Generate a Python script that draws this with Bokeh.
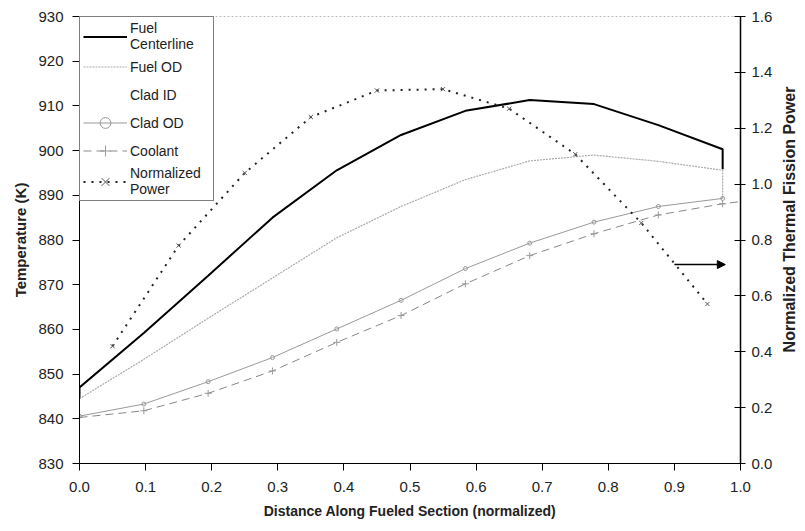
import math
from bokeh.plotting import figure
from bokeh.models import (Range1d, LinearAxis, FixedTicker, Legend, LegendItem,
                          Arrow, NormalHead, NumeralTickFormatter)
from bokeh.embed import file_html
from bokeh.resources import INLINE

# ---------------- data ----------------
x_nodes = [0.0, 0.0973, 0.1946, 0.2919, 0.3892, 0.4865, 0.5838, 0.6811, 0.7784, 0.8757, 0.973]

centerline_x = [0.0] + x_nodes + [0.973]
centerline_t = [844.5, 847.0, 859.2, 872.0, 885.0, 895.6, 903.5, 908.9, 911.3, 910.4, 905.7, 900.3, 895.8]

fuel_od_x = x_nodes + [0.973]
fuel_od_t = [844.5, 853.3, 862.5, 871.5, 880.5, 887.5, 893.5, 897.7, 899.0, 897.6, 895.6, 889.3]

clad_od_x = x_nodes
clad_od_t = [840.6, 843.3, 848.3, 853.7, 860.1, 866.5, 873.6, 879.3, 884.0, 887.5, 889.3]

coolant_x = x_nodes + [1.0]
coolant_t = [840.3, 841.8, 845.7, 850.7, 857.1, 863.1, 870.2, 876.5, 881.4, 885.6, 888.1, 888.6]

power_x = [0.05, 0.15, 0.25, 0.35, 0.45, 0.55, 0.65, 0.75, 0.85, 0.95]
power_v = [0.42, 0.78, 1.04, 1.24, 1.335, 1.34, 1.27, 1.107, 0.861, 0.571]

x_ticks = [0.0, 0.1, 0.2, 0.3, 0.4, 0.5, 0.6, 0.7, 0.8, 0.9, 1.0]
t_ticks = [830, 840, 850, 860, 870, 880, 890, 900, 910, 920, 930]
p_ticks = [0.0, 0.2, 0.4, 0.6, 0.8, 1.0, 1.2, 1.4, 1.6]

arrow_x = [0.90, 0.977]
arrow_power = 0.712

FONT = "Liberation Sans"
FRAME_W, FRAME_H = 661, 447

p = figure(frame_width=FRAME_W, frame_height=FRAME_H,
           x_range=Range1d(0, 1), y_range=Range1d(830, 930),
           output_backend="svg", toolbar_location=None,
           min_border_left=79, min_border_right=62, min_border_top=16, min_border_bottom=60)
p.extra_y_ranges = {"power": Range1d(0, 1.6)}

p.xgrid.grid_line_color = None
p.ygrid.grid_line_color = None
p.outline_line_color = "#bbbbbb"
p.outline_line_dash = "2 2"
p.background_fill_color = "white"
p.border_fill_color = "white"

def style_axis(ax, ticks):
    ax.ticker = FixedTicker(ticks=ticks)
    ax.axis_line_color = "black"
    ax.major_tick_line_color = "black"
    ax.minor_tick_line_color = None
    ax.major_label_text_font = FONT
    ax.major_label_text_font_size = "15px"
    ax.major_label_text_color = "#222222"
    ax.axis_label_text_font = FONT
    ax.axis_label_text_font_size = "14px"
    ax.axis_label_text_font_style = "bold"
    ax.axis_label_text_color = "#222222"

xa = p.xaxis[0]
style_axis(xa, x_ticks)
xa.axis_label = "Distance Along Fueled Section (normalized)"
xa.formatter = NumeralTickFormatter(format="0.0")
xa.major_tick_in = 0
xa.major_tick_out = 7
xa.major_label_standoff = 11
xa.axis_label_standoff = 8

ya = p.yaxis[0]
style_axis(ya, t_ticks)
ya.axis_label = "Temperature (K)"
ya.axis_label_text_font_size = "15px"
ya.major_tick_in = 0
ya.major_tick_out = 7
ya.major_label_standoff = 9
ya.axis_label_standoff = 6

# right axis: label reads bottom-to-top (as in the reference); it is anchored at the
# bottom of the axis and lifted towards the middle by non-breaking spaces
ra = LinearAxis(y_range_name="power",
                axis_label="\u00a0" * 25 + "Normalized Thermal Fission Power")
style_axis(ra, p_ticks)
ra.formatter = NumeralTickFormatter(format="0.0")
ra.axis_label_text_font_size = "16px"
ra.axis_label_orientation = math.pi / 2
ra.axis_label_align = "start"
ra.axis_label_standoff = 14
ra.axis_line_width = 1.5
ra.major_tick_in = 6
ra.major_tick_out = 5
ra.major_label_standoff = 6
p.add_layout(ra, "right")

# ---------------- glyphs ----------------
r_cl = p.line(centerline_x, centerline_t, line_color="black", line_width=2)
r_fod = p.line(fuel_od_x, fuel_od_t, line_color="#aaaaaa", line_width=1.2, line_dash="2 1")
r_cid = p.line([], [], line_color="white", line_width=1)
r_cod = p.line(clad_od_x, clad_od_t, line_color="#999999", line_width=1)
r_cod_m = p.scatter(clad_od_x, clad_od_t, marker="circle", size=4, line_color="#999999",
                    fill_color=None, line_width=1)
r_cool = p.line(coolant_x, coolant_t, line_color="#888888", line_width=1, line_dash="8 5")
r_cool_m = p.scatter(coolant_x[:-1], coolant_t[:-1], marker="cross", size=7, line_color="#999999",
                     line_width=1)
r_pw = p.line(power_x, power_v, y_range_name="power", line_color="#222222", line_width=2,
              line_dash="2 6")
r_pw_m = p.scatter(power_x, power_v, y_range_name="power", marker="x", size=6,
                   line_color="#555555", line_width=1)

p.add_layout(Arrow(x_start=arrow_x[0], y_start=arrow_power, x_end=arrow_x[1], y_end=arrow_power,
                   y_range_name="power", line_color="black", line_width=1.5,
                   end=NormalHead(size=8, fill_color="black", line_color="black")))

legend = Legend(items=[
    LegendItem(label="Fuel\nCenterline", renderers=[r_cl]),
    LegendItem(label="Fuel OD", renderers=[r_fod]),
    LegendItem(label="Clad ID", renderers=[r_cid]),
    LegendItem(label="Clad OD", renderers=[r_cod, r_cod_m]),
    LegendItem(label="Coolant", renderers=[r_cool, r_cool_m]),
    LegendItem(label="Normalized\nPower", renderers=[r_pw, r_pw_m]),
], location="top_left")
legend.margin = 0
legend.padding = 3
legend.spacing = 1
legend.border_line_color = "black"
legend.border_line_width = 1
legend.label_text_font = FONT
legend.label_text_font_size = "14px"
legend.label_text_color = "#222222"
legend.glyph_width = 44
legend.label_standoff = 3
legend.label_width = 80
legend.label_height = 27
legend.glyph_height = 27
legend.background_fill_alpha = 1.0
p.add_layout(legend, "center")

open("out.html", "w").write(file_html(p, INLINE))
